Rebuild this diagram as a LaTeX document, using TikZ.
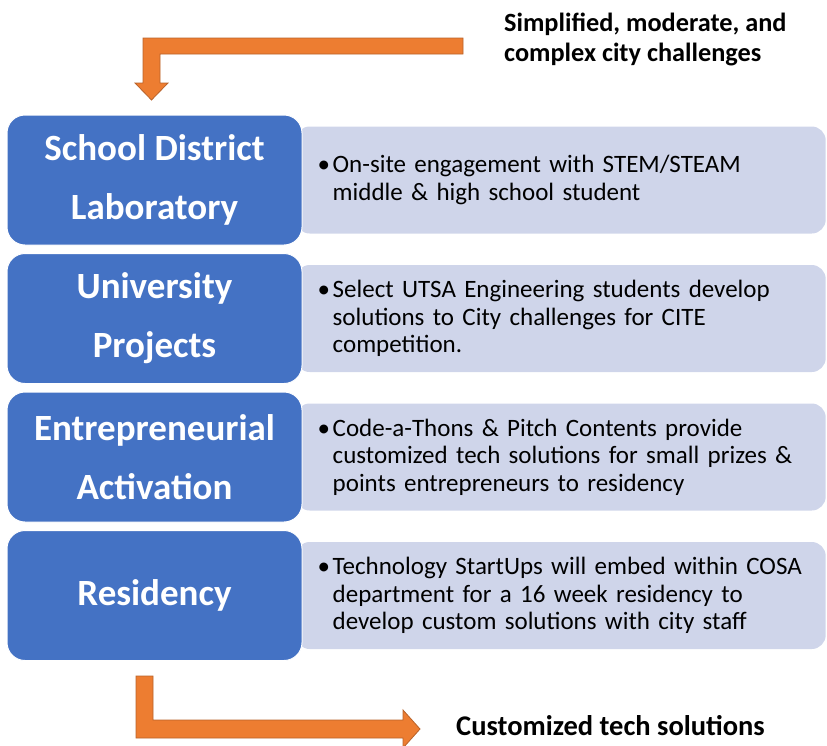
\documentclass[tikz,border=0pt]{standalone}
\usepackage{fontspec}
\setmainfont{Carlito}
\usetikzlibrary{positioning,backgrounds}

\definecolor{stageblue}{HTML}{4472C4}
\definecolor{notelilac}{HTML}{CFD5EA}
\definecolor{floworange}{HTML}{ED7D31}
\definecolor{flowedge}{HTML}{B8622A}

% one bullet with its lines (lines split by \newline)
\newcommand{\bulletlines}[1]{%
  \hangindent=15pt\hangafter=1\noindent\makebox[15pt][l]{\textbullet}#1\par}

\begin{document}
\begin{tikzpicture}[x=1pt, y=-1pt,
    stage/.style={fill=stageblue, draw=white, line width=1pt, rounded corners=18pt,
      minimum width=295pt, minimum height=130pt, inner sep=0pt, text=white,
      align=center, font=\fontsize{37}{59}\selectfont\bfseries},
    note/.style={fill=notelilac, rounded corners=14pt, minimum height=107pt,
      text width=486pt, inner xsep=22pt, inner ysep=0pt, align=left,
      font=\fontsize{25}{27.5}\selectfont},
    flow/.style={fill=floworange, draw=flowedge, line width=0.8pt, line join=miter},
    caption/.style={align=left, inner sep=0pt, font=\fontsize{26.3}{30}\selectfont\bfseries}]
  \useasboundingbox (0,0) rectangle (827,745);

  % Stages
  \node[stage] (district) at (154.5,180) {School District\\Laboratory};
  \node[stage, below=7.5pt of district] (university) {University\\Projects};
  \node[stage, below=7.5pt of university] (activation) {Entrepreneurial\\Activation};
  \node[stage, below=7.5pt of activation] (residency) {Residency};

  % Notes behind the stages
  \begin{scope}[on background layer]
    \node[note, right=-7pt of district] (districtnote)
      {\bulletlines{On-site engagement with STEM/STEAM\newline middle \& high school student}};
    \node[note, right=-7pt of university] (universitynote)
      {\bulletlines{Select UTSA Engineering students develop\newline solutions to City challenges for CITE\newline competition.}};
    \node[note, right=-7pt of activation] (activationnote)
      {\bulletlines{Code-a-Thons \& Pitch Contents provide\newline customized tech solutions for small prizes \&\newline points entrepreneurs to residency}};
    \node[note, right=-7pt of residency] (residencynote)
      {\bulletlines{Technology StartUps will embed within COSA\newline department for a 16 week residency to\newline develop custom solutions with city staff}};
  \end{scope}

  % Incoming challenges
  \node[caption, anchor=north west] (challenges) at (504,13)
    {Simplified, moderate, and\\complex city challenges};
  \filldraw[flow] (463,38) -- (143,38) -- (143,83) -- (135,83) -- (151.5,100)
    -- (168,83) -- (160,83) -- (160,54) -- (463,54) -- cycle;

  % Outgoing solutions
  \filldraw[flow] (136,676) -- (136,738) -- (403,738) -- (403,748) -- (420,729)
    -- (403,710) -- (403,720) -- (153,720) -- (153,676) -- cycle;
  \node[caption, anchor=west, font=\fontsize{28.5}{30}\selectfont\bfseries] (solutions)
    at (456,726) {Customized tech solutions};
\end{tikzpicture}
\end{document}
